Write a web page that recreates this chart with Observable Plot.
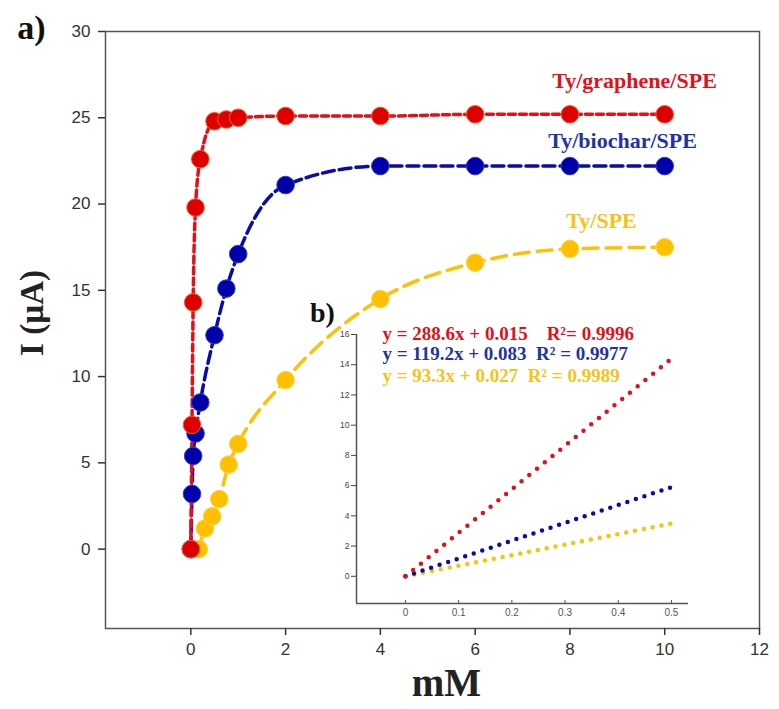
<!DOCTYPE html>
<html><head><meta charset="utf-8">
<script src="https://cdn.jsdelivr.net/npm/d3@7"></script>
<script src="https://cdn.jsdelivr.net/npm/@observablehq/plot@0.6"></script>
<style>
body{margin:0;background:#fff;}
#wrap{position:relative;width:779px;height:709px;overflow:hidden;}
#wrap svg{position:absolute;}
</style></head><body><div id="wrap"></div>
<script>
// ---- data ----
const seriesNames = ["Ty/graphene/SPE", "Ty/biochar/SPE", "Ty/SPE"];
const grapheneX = [0, 0.025, 0.05, 0.1, 0.2, 0.5, 0.75, 1, 2, 4, 6, 8, 10];
const grapheneY = [0, 7.2, 14.3, 19.8, 22.6, 24.8, 24.9, 25.0, 25.1, 25.1, 25.2, 25.2, 25.2];
const biocharX = [0, 0.025, 0.05, 0.1, 0.2, 0.5, 0.75, 1, 2, 4, 6, 8, 10];
const biocharY = [0, 3.2, 5.4, 6.7, 8.5, 12.4, 15.1, 17.1, 21.1, 22.2, 22.2, 22.2, 22.2];
const speX = [0.17, 0.3, 0.45, 0.6, 0.8, 1, 2, 4, 6, 8, 10];
const speY = [0, 1.2, 1.9, 2.9, 4.9, 6.1, 9.8, 14.5, 16.6, 17.4, 17.5];
const xTicks = [0, 2, 4, 6, 8, 10, 12];
const yTicks = [0, 5, 10, 15, 20, 25, 30];

const insetX = [0, 0.5];
const insetGrapheneY = [0, 14.4];
const insetBiocharY = [0, 5.9];
const insetSpeY = [0, 3.5];
const insetXTicks = [0, 0.1, 0.2, 0.3, 0.4, 0.5];
const insetYTicks = [0, 2, 4, 6, 8, 10, 12, 14, 16];
const equations = ["y = 288.6x + 0.015    R²= 0.9996", "y = 119.2x + 0.083  R² = 0.9977", "y = 93.3x + 0.027  R² = 0.9989"];

// ---- tables ----
const toRows = (xs, ys, s) => xs.map((x, i) => ({series: s, x, y: ys[i]}));
const graphene = toRows(grapheneX, grapheneY, seriesNames[0]);
const biochar = toRows(biocharX, biocharY, seriesNames[1]);
const spe = toRows(speX, speY, seriesNames[2]);
const iG = toRows(insetX, insetGrapheneY, seriesNames[0]);
const iB = toRows(insetX, insetBiocharY, seriesNames[1]);
const iS = toRows(insetX, insetSpeY, seriesNames[2]);

const RED = "#e3101a", BLUE = "#0b0ba8", YEL = "#ffc107";
const SERIF = "'Times New Roman', 'Liberation Serif', serif";
const SANS = "Arial, 'Liberation Sans', sans-serif";
const label = (t, o) => Plot.text([t], {text: d => d, textAnchor: "middle", lineAnchor: "middle", fontWeight: "bold", fontFamily: SERIF, ...o});

const main = Plot.plot({
  width: 779, height: 709,
  marginLeft: 105, marginRight: 20, marginTop: 31, marginBottom: 81,
  x: {domain: [-1.8, 12]},
  y: {domain: [-4.6, 30]},
  style: {fontFamily: SANS, background: "transparent", overflow: "visible"},
  marks: [
    Plot.frame({stroke: "#555", strokeWidth: 1.5}),
    Plot.axisX({ticks: xTicks, tickSize: 7, tickPadding: 7, fontSize: 17, label: null, color: "#333", strokeWidth: 1.5}),
    Plot.axisY({ticks: yTicks, tickSize: 7, tickPadding: 8, fontSize: 17, label: null, color: "#333", strokeWidth: 1.5}),
    Plot.line(spe, {x: "x", y: "y", stroke: YEL, strokeWidth: 3.5, strokeDasharray: "15 8", curve: "monotone-x"}),
    Plot.line(biochar, {x: "x", y: "y", stroke: BLUE, strokeWidth: 3.5, strokeDasharray: "12 5", curve: "monotone-x"}),
    Plot.line(graphene, {x: "x", y: "y", stroke: RED, strokeWidth: 3.5, strokeDasharray: "7 4", curve: "monotone-x"}),
    Plot.dot(spe, {x: "x", y: "y", r: 8.8, fill: "#ffc000", stroke: "#ffd24d", strokeWidth: 1}),
    Plot.dot(biochar, {x: "x", y: "y", r: 8.8, fill: "#0000a8", stroke: "#2a3fd0", strokeWidth: 1}),
    Plot.dot(graphene, {x: "x", y: "y", r: 8.8, fill: "#dd0000", stroke: "#ff5a1f", strokeWidth: 1}),
    label(seriesNames[0], {frameAnchor: "top-left", dx: 529, dy: 49, fill: RED, fontSize: 22}),
    label(seriesNames[1], {frameAnchor: "top-left", dx: 517, dy: 109, fill: "#2233a8", fontSize: 22}),
    label(seriesNames[2], {frameAnchor: "top-left", dx: 496, dy: 189, fill: "#f7c21a", fontSize: 22}),
    label("a)", {frameAnchor: "top-left", dx: -74, dy: -3, fontSize: 34, fill: "#111"}),
    label("I (µA)", {frameAnchor: "left", dx: -73, dy: -17, rotate: -90, fontSize: 33, fill: "#222"}),
    label("mM", {frameAnchor: "bottom", dx: 14, dy: 55, fontSize: 39, fill: "#222"})
  ]
});
main.style.left = "0px"; main.style.top = "0px";

const xMin = -0.092, yMin = -1.8;
const inset = Plot.plot({
  width: 420, height: 330,
  marginLeft: 66, marginRight: 22, marginTop: 39, marginBottom: 22,
  x: {domain: [xMin, 0.532]},
  y: {domain: [yMin, 16]},
  style: {fontFamily: SANS, background: "transparent", overflow: "visible"},
  marks: [
    Plot.ruleX([xMin], {stroke: "#555", strokeWidth: 1.5}),
    Plot.ruleY([yMin], {stroke: "#555", strokeWidth: 1.5}),
    Plot.axisX({ticks: insetXTicks, tickSize: -3, tickPadding: 8, fontSize: 10, label: null, color: "#555", tickFormat: d => String(d)}),
    Plot.axisY({ticks: insetYTicks, tickSize: 5, tickPadding: 2, fontSize: 8.5, label: null, color: "#444"}),
    Plot.line(iS, {x: "x", y: "y", stroke: YEL, strokeWidth: 4.5, strokeDasharray: "0 9", strokeLinecap: "round"}),
    Plot.line(iB, {x: "x", y: "y", stroke: BLUE, strokeWidth: 4.5, strokeDasharray: "0 9", strokeLinecap: "round"}),
    Plot.line(iG, {x: "x", y: "y", stroke: RED, strokeWidth: 4.5, strokeDasharray: "0 10", strokeLinecap: "round"}),
    label(equations[0], {frameAnchor: "top-left", textAnchor: "start", dx: 26, dy: -1, fill: RED, fontSize: 19}),
    label(equations[1], {frameAnchor: "top-left", textAnchor: "start", dx: 26, dy: 19, fill: "#2233a8", fontSize: 19}),
    label(equations[2], {frameAnchor: "top-left", textAnchor: "start", dx: 26, dy: 41, fill: "#f7c21a", fontSize: 19}),
    label("b)", {frameAnchor: "top-left", dx: -34, dy: -21, fontSize: 28, fill: "#111"})
  ]
});
inset.style.left = "290px"; inset.style.top = "295px";

const wrap = document.getElementById("wrap");
wrap.appendChild(main);
wrap.appendChild(inset);
</script>
</body></html>
